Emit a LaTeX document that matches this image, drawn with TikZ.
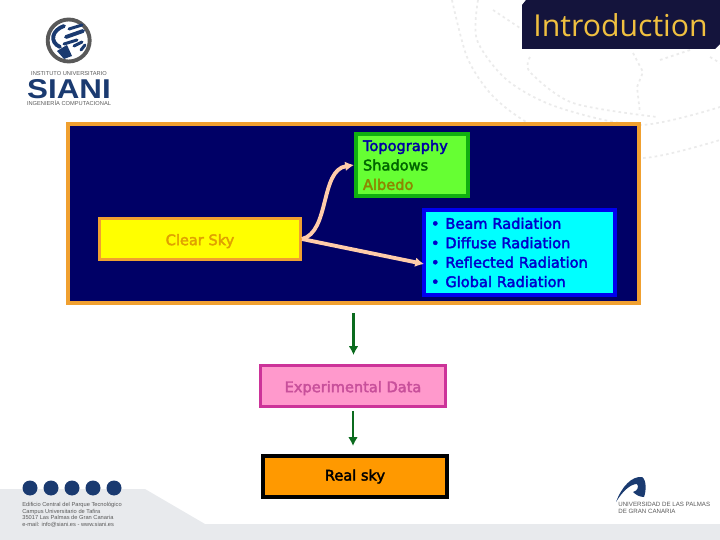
\documentclass[tikz,border=0pt]{standalone}
\usetikzlibrary{arrows.meta}
\usepackage{fontspec}
\setmainfont[FakeBold=2.5]{DejaVu Sans}
\newfontfamily\titlefont{Open Sans}
\newfontfamily\logofont{Liberation Sans}
\definecolor{framenavy}{HTML}{000066}
\definecolor{frameorange}{HTML}{F0A030}
\definecolor{titlenavy}{HTML}{14143C}
\definecolor{titlegold}{HTML}{F0C040}
\definecolor{arrowpink}{HTML}{FFCCAA}
\definecolor{arrowgreen}{HTML}{0B6B1E}
\definecolor{logonavy}{HTML}{1A3A70}
\definecolor{bandgray}{HTML}{E8EAED}
\definecolor{skyyellow}{HTML}{FFFF00}
\definecolor{skytext}{HTML}{E0A000}
\definecolor{terrainfill}{HTML}{66FF33}
\definecolor{terrainedge}{HTML}{10B010}
\definecolor{radfill}{HTML}{00FFFF}
\definecolor{radedge}{HTML}{0000EE}
\definecolor{radtext}{HTML}{0000CC}
\definecolor{datafill}{HTML}{FF99CC}
\definecolor{dataedge}{HTML}{CC3399}
\definecolor{datatext}{HTML}{C8509B}
\definecolor{realfill}{HTML}{FF9900}
\tikzset{
    infobox/.style={draw, font=\fontsize{8.3}{11.05}\selectfont, inner sep=0pt, align=left},
    logotext/.style={font=\logofont\fontsize{3.25}{3.8}\selectfont, text=black!65, inner sep=0pt},
    softarrow/.style={draw=arrowpink, line width=2.2pt, -{Latex[length=5pt, width=5.5pt]}},
    downarrow/.style={draw=arrowgreen, line width=1.7pt, -{Latex[length=5pt, width=5.5pt]}},
    faintline/.style={black!8, line width=1pt, dash pattern=on 1.5pt off 1.8pt},
}
\def\px{0.02cm}
\begin{document}
\begin{tikzpicture}[x=0.02cm, y=-0.02cm]
    \useasboundingbox (0, 0) rectangle (720, 540);

    % Faint dashed lines behind the title
    \draw[faintline] plot[smooth] coordinates {(452, 0) (467, 57) (490, 93) (520, 118) (570, 145) (643, 158) (720, 140)};
    \draw[faintline] plot[smooth] coordinates {(478, 0) (477, 40) (507, 80) (557, 107) (640, 125) (720, 107)};
    \draw[faintline] plot[smooth] coordinates {(493, 10) (520, 28)};
    \draw[faintline] plot[smooth] coordinates {(530, 57) (530, 72) (573, 103) (657, 117)};
    \draw[faintline] plot coordinates {(633, 53) (643, 72) (637, 87) (640, 113)};
    \draw[faintline] plot coordinates {(660, 60) (690, 50)};
    \draw[faintline] plot coordinates {(710, 57) (720, 63)};

    % Grey band along the bottom
    \fill[bandgray] (0, 489) -- (145, 489) -- (205, 524) -- (720, 524) -- (720, 540) -- (0, 540) -- cycle;

    % Title tab
    \fill[titlenavy] (522, 5) -- (526, 0) -- (720, 0) -- (720, 44) -- (715, 49) -- (522, 49) -- cycle;
    \node[font=\titlefont\fontsize{17.2}{20}\selectfont, text=titlegold] (titlelabel) at (620.5, 25) {Introduction};

    % SIANI logo
    \draw[black!65, line width=2.2pt] (68.7, 40.5) circle [radius=21];
    \draw[logonavy, line width=2.2pt, line cap=round] (64, 26) .. controls (52, 30) and (49, 42) .. (60, 47);
    \draw[logonavy, line width=1.7pt, line cap=round] (69, 29) -- (82, 25);
    \draw[logonavy, line width=2.2pt, line cap=round] (66, 37) -- (83, 31);
    \draw[logonavy, line width=1.7pt, line cap=round] (64, 44) -- (77, 40);
    \draw[logonavy, line width=1.7pt, line cap=round] (74, 46) -- (82, 42);
    \draw[logonavy, line width=1.7pt, line cap=round] (81, 50) -- (85, 45);
    \fill[logonavy] (57, 51) -- (67, 45) -- (72, 56) -- (64, 59) -- cycle;
    \node[logotext] (sianitop) at (69, 73.5) {INSTITUTO UNIVERSITARIO};
    \node[font=\logofont\bfseries\fontsize{15.5}{18}\selectfont, text=logonavy, inner sep=0pt, xscale=1.15] (sianiname) at (69, 89) {SIANI};
    \node[logotext] (sianibottom) at (69, 103.5) {INGENIERÍA COMPUTACIONAL};

    % Footer address
    \foreach \x in {30, 51, 72, 93, 114} {
        \fill[logonavy] (\x, 488) circle [radius=7.5];
    }
    \node[logotext, align=left, anchor=north west] (address) at (22, 502) {Edificio Central del Parque Tecnológico\\Campus Universitario de Tafira\\35017 Las Palmas de Gran Canaria\\e-mail: info@siani.es - www.siani.es};

    % ULPGC logo
    \fill[logonavy] (616, 502) .. controls (622, 486) and (632, 476) .. (642, 477)
        .. controls (647, 480) and (646, 492) .. (644, 497)
        .. controls (640, 497) and (636, 495) .. (633, 492)
        .. controls (638, 491) and (639, 486) .. (637, 484)
        .. controls (630, 484) and (622, 492) .. (616, 502) -- cycle;
    \node[logotext, align=left, anchor=north west, font=\logofont\fontsize{3.5}{4}\selectfont] (ulpgc) at (618, 502) {UNIVERSIDAD DE LAS PALMAS\\DE GRAN CANARIA};

    % Main frame
    \node[draw=frameorange, fill=framenavy, line width=2.3pt, minimum width=571*\px, minimum height=179*\px] (frame) at (353.5, 213.5) {};

    % Boxes inside the frame
    \node[infobox, draw=frameorange, fill=skyyellow, line width=1.7pt, text=skytext, align=center, minimum width=201*\px, minimum height=41*\px] (clearsky) at (200, 239) {\raisebox{-3.5pt}[4pt][4pt]{Clear Sky}};
    \node[infobox, draw=terrainedge, fill=terrainfill, line width=2.3pt, inner xsep=7*\px, text width=98*\px, minimum height=62*\px] (terrain) at (412, 165) {\textcolor{radtext!80!black}{Topography}\\\textcolor{green!40!black}{Shadows}\\\textcolor{olive}{Albedo}};
    \node[infobox, draw=radedge, fill=radfill, line width=2.3pt, text=radtext, inner xsep=7*\px, text width=177*\px, minimum height=85*\px] (radiation) at (519.5, 252.5) {%
        \textbullet\hspace{0.4em}Beam Radiation\\
        \textbullet\hspace{0.4em}Diffuse Radiation\\
        \textbullet\hspace{0.4em}Reflected Radiation\\
        \textbullet\hspace{0.4em}Global Radiation};

    % Boxes below the frame
    \node[infobox, draw=dataedge, fill=datafill, line width=1.7pt, text=datatext, align=center, minimum width=185*\px, minimum height=41*\px] (expdata) at (353, 386) {\raisebox{-3.5pt}[4pt][4pt]{Experimental Data}};
    \node[infobox, draw=black, fill=realfill, line width=2.3pt, text=black, align=center, minimum width=184*\px, minimum height=41*\px] (realsky) at (355, 476.5) {Real sky};

    % Connectors
    \coordinate (radiationin) at (424, 264);
    \draw[softarrow] (clearsky.east) .. controls (330, 232) and (320, 170) .. (terrain.west);
    \draw[softarrow] (clearsky.east) -- (radiationin);
    \draw[downarrow, shorten <=8*\px, shorten >=9*\px] (frame.south) -- (frame.south |- expdata.north);
    \draw[downarrow, shorten <=3*\px, shorten >=8*\px] (expdata.south) -- (expdata.south |- realsky.north);
\end{tikzpicture}
\end{document}
